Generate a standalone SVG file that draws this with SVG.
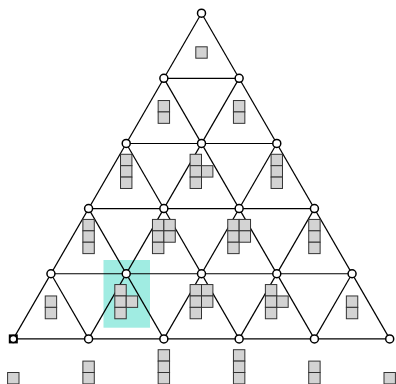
<svg xmlns="http://www.w3.org/2000/svg" xmlns:xlink="http://www.w3.org/1999/xlink" width="396" height="384" viewBox="0 0 396 384">
<style>
.e{stroke:#000;stroke-width:1.2;fill:none}
.n{fill:#fff;stroke:#000;stroke-width:1.5}
.c{fill:#d3d3d3;stroke:#333;stroke-width:1}
</style>
<defs>
<rect id="c" class="c" width="11.4" height="11.4"/>
</defs>
<rect width="396" height="384" fill="#fff"/>
<rect id="highlight" x="103.5" y="260" width="46.5" height="67.7" fill="#a0ece2"/>
<g id="connectors">
<line class="e" x1="163.86" y1="78.34" x2="239.14" y2="78.34"/>
<line class="e" x1="126.22" y1="143.48" x2="276.78" y2="143.48"/>
<line class="e" x1="88.58" y1="208.62" x2="314.42" y2="208.62"/>
<line class="e" x1="50.94" y1="273.76" x2="352.06" y2="273.76"/>
<line class="e" x1="13.3" y1="338.9" x2="389.7" y2="338.9"/>
<line class="e" x1="201.5" y1="13.2" x2="389.7" y2="338.9"/>
<line class="e" x1="163.86" y1="78.34" x2="314.42" y2="338.9"/>
<line class="e" x1="126.22" y1="143.48" x2="239.14" y2="338.9"/>
<line class="e" x1="88.58" y1="208.62" x2="163.86" y2="338.9"/>
<line class="e" x1="50.94" y1="273.76" x2="88.58" y2="338.9"/>
<line class="e" x1="201.5" y1="13.2" x2="13.3" y2="338.9"/>
<line class="e" x1="239.14" y1="78.34" x2="88.58" y2="338.9"/>
<line class="e" x1="276.78" y1="143.48" x2="163.86" y2="338.9"/>
<line class="e" x1="314.42" y1="208.62" x2="239.14" y2="338.9"/>
<line class="e" x1="352.06" y1="273.76" x2="314.42" y2="338.9"/>
</g>
<g id="shapes">
<g id="s0"><use href="#c" x="195.8" y="46.8"/></g>
<g id="s1a"><use href="#c" x="158.16" y="100.54"/><use href="#c" x="158.16" y="111.94"/></g>
<g id="s1b"><use href="#c" x="233.44" y="100.54"/><use href="#c" x="233.44" y="111.94"/></g>
<g id="s2a"><use href="#c" x="120.52" y="154.28"/><use href="#c" x="120.52" y="165.68"/><use href="#c" x="120.52" y="177.08"/></g>
<g id="s2b"><use href="#c" x="190.1" y="154.28"/><use href="#c" x="190.1" y="165.68"/><use href="#c" x="201.5" y="165.68"/><use href="#c" x="190.1" y="177.08"/></g>
<g id="s2c"><use href="#c" x="271.08" y="154.28"/><use href="#c" x="271.08" y="165.68"/><use href="#c" x="271.08" y="177.08"/></g>
<g id="s3a"><use href="#c" x="82.88" y="219.42"/><use href="#c" x="82.88" y="230.82"/><use href="#c" x="82.88" y="242.22"/></g>
<g id="s3b"><use href="#c" x="152.46" y="219.42"/><use href="#c" x="163.86" y="219.42"/><use href="#c" x="152.46" y="230.82"/><use href="#c" x="163.86" y="230.82"/><use href="#c" x="152.46" y="242.22"/></g>
<g id="s3c"><use href="#c" x="227.74" y="219.42"/><use href="#c" x="239.14" y="219.42"/><use href="#c" x="227.74" y="230.82"/><use href="#c" x="239.14" y="230.82"/><use href="#c" x="227.74" y="242.22"/></g>
<g id="s3d"><use href="#c" x="308.72" y="219.42"/><use href="#c" x="308.72" y="230.82"/><use href="#c" x="308.72" y="242.22"/></g>
<g id="s4a"><use href="#c" x="45.24" y="295.96"/><use href="#c" x="45.24" y="307.36"/></g>
<g id="s4b"><use href="#c" x="114.82" y="284.56"/><use href="#c" x="114.82" y="295.96"/><use href="#c" x="126.22" y="295.96"/><use href="#c" x="114.82" y="307.36"/></g>
<g id="s4c"><use href="#c" x="190.1" y="284.56"/><use href="#c" x="201.5" y="284.56"/><use href="#c" x="190.1" y="295.96"/><use href="#c" x="201.5" y="295.96"/><use href="#c" x="190.1" y="307.36"/></g>
<g id="s4d"><use href="#c" x="265.38" y="284.56"/><use href="#c" x="265.38" y="295.96"/><use href="#c" x="276.78" y="295.96"/><use href="#c" x="265.38" y="307.36"/></g>
<g id="s4e"><use href="#c" x="346.36" y="295.96"/><use href="#c" x="346.36" y="307.36"/></g>
<g id="s5a"><use href="#c" x="7.6" y="372.5"/></g>
<g id="s5b"><use href="#c" x="82.88" y="361.1"/><use href="#c" x="82.88" y="372.5"/></g>
<g id="s5c"><use href="#c" x="158.16" y="349.7"/><use href="#c" x="158.16" y="361.1"/><use href="#c" x="158.16" y="372.5"/></g>
<g id="s5d"><use href="#c" x="233.44" y="349.7"/><use href="#c" x="233.44" y="361.1"/><use href="#c" x="233.44" y="372.5"/></g>
<g id="s5e"><use href="#c" x="308.72" y="361.1"/><use href="#c" x="308.72" y="372.5"/></g>
<g id="s5f"><use href="#c" x="384" y="372.5"/></g>
</g>
<g id="nodes">
<g id="n00"><circle class="n" cx="201.5" cy="13.2" r="4"/></g>
<g id="n10"><circle class="n" cx="163.86" cy="78.34" r="4"/></g>
<g id="n11"><circle class="n" cx="239.14" cy="78.34" r="4"/></g>
<g id="n20"><circle class="n" cx="126.22" cy="143.48" r="4"/></g>
<g id="n21"><circle class="n" cx="201.5" cy="143.48" r="4"/></g>
<g id="n22"><circle class="n" cx="276.78" cy="143.48" r="4"/></g>
<g id="n30"><circle class="n" cx="88.58" cy="208.62" r="4"/></g>
<g id="n31"><circle class="n" cx="163.86" cy="208.62" r="4"/></g>
<g id="n32"><circle class="n" cx="239.14" cy="208.62" r="4"/></g>
<g id="n33"><circle class="n" cx="314.42" cy="208.62" r="4"/></g>
<g id="n40"><circle class="n" cx="50.94" cy="273.76" r="4"/></g>
<g id="n41"><circle class="n" cx="126.22" cy="273.76" r="4"/></g>
<g id="n42"><circle class="n" cx="201.5" cy="273.76" r="4"/></g>
<g id="n43"><circle class="n" cx="276.78" cy="273.76" r="4"/></g>
<g id="n44"><circle class="n" cx="352.06" cy="273.76" r="4"/></g>
<g id="n50"><rect x="8.8" y="334.4" width="9" height="9" fill="#000"/><circle class="n" cx="13.3" cy="338.9" r="3.5"/></g>
<g id="n51"><circle class="n" cx="88.58" cy="338.9" r="4"/></g>
<g id="n52"><circle class="n" cx="163.86" cy="338.9" r="4"/></g>
<g id="n53"><circle class="n" cx="239.14" cy="338.9" r="4"/></g>
<g id="n54"><circle class="n" cx="314.42" cy="338.9" r="4"/></g>
<g id="n55"><circle class="n" cx="389.7" cy="338.9" r="4"/></g>
</g>
</svg>
